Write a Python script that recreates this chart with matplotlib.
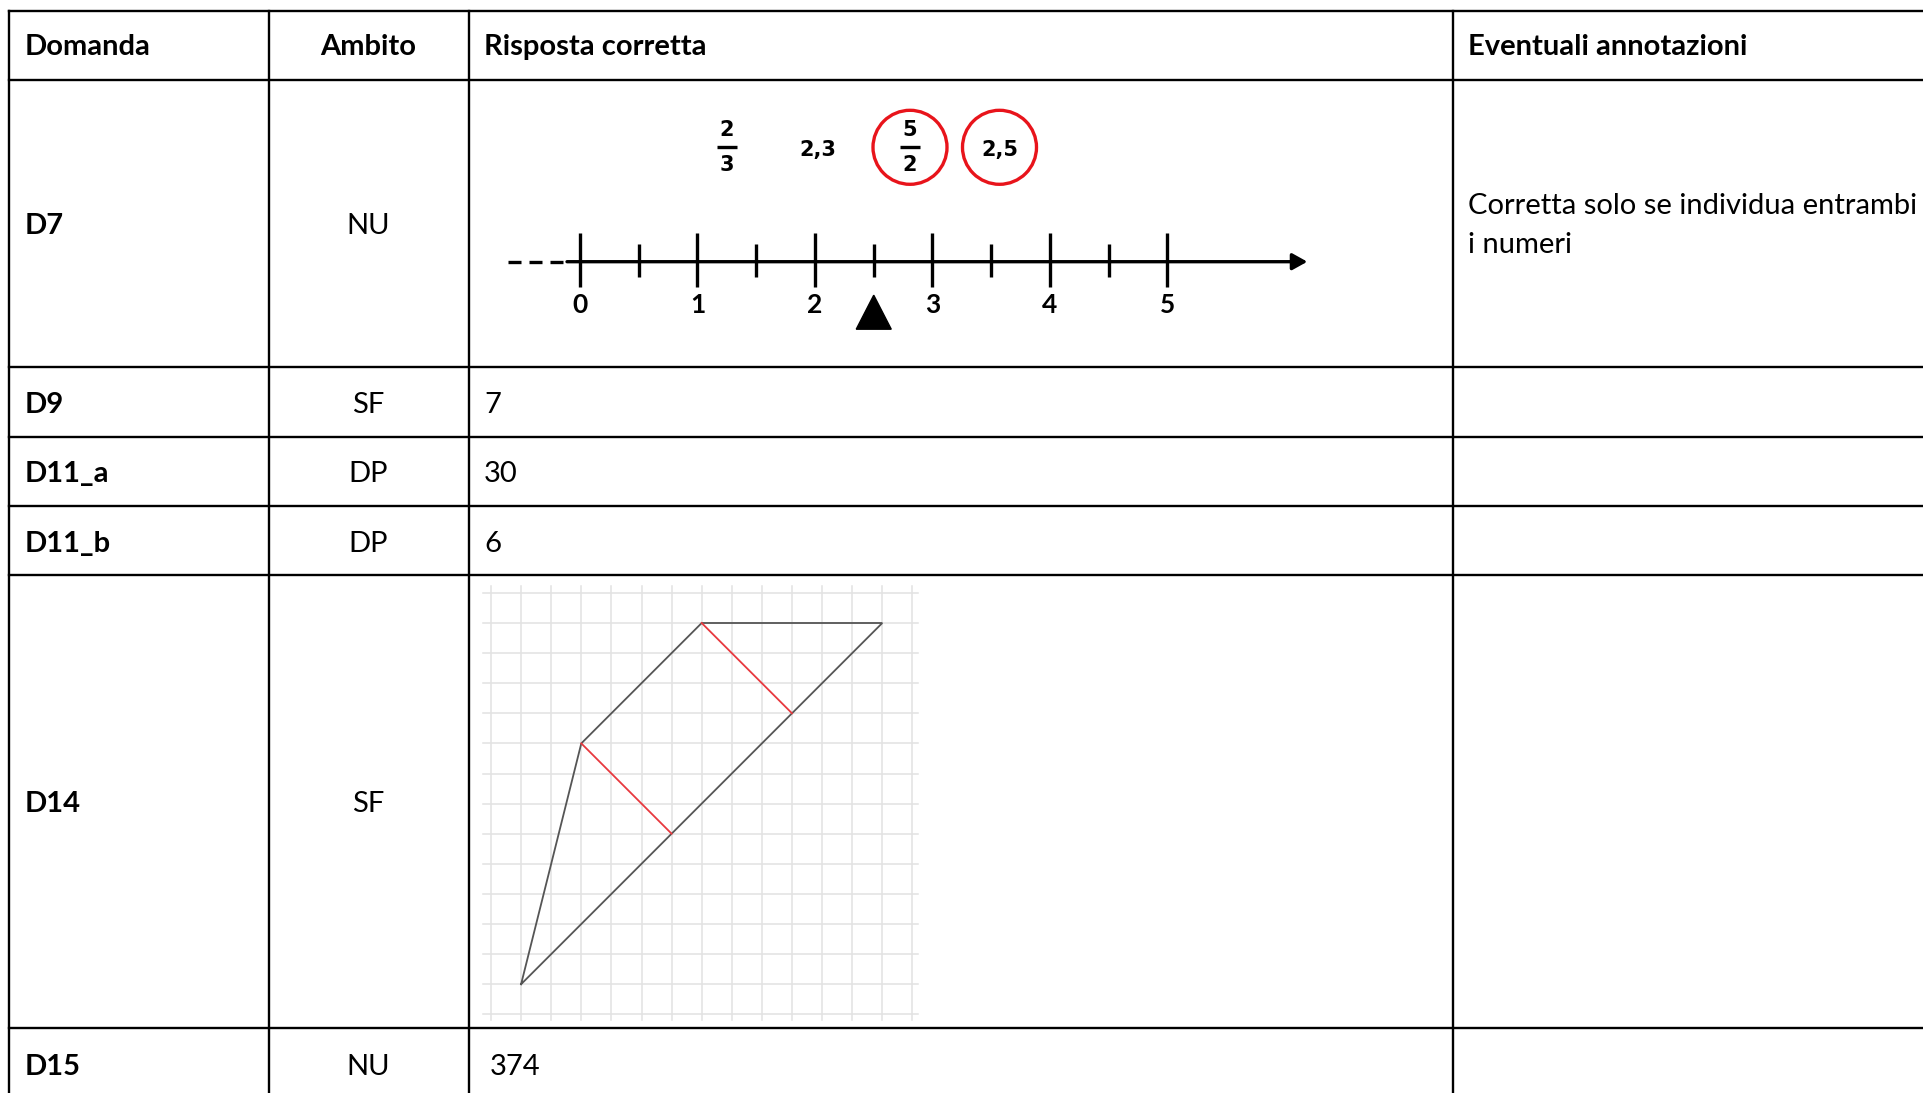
import matplotlib
matplotlib.use("Agg")
import matplotlib.pyplot as plt
from matplotlib.patches import Circle, Polygon

plt.rcParams['font.family'] = ['Lato', 'DejaVu Sans']

# ---------------- data ----------------
headers = ["Domanda", "Ambito", "Risposta corretta", "Eventuali annotazioni"]
questions = ["D7", "D9", "D11_a", "D11_b", "D14", "D15"]
ambiti = ["NU", "SF", "DP", "DP", "SF", "NU"]
risposte = ["", "7", "30", "6", "", "374"]
annotazioni = [["Corretta solo se individua entrambi", "i numeri"], [], [], [], [], []]

# number line (D7)
nl_major = [0, 1, 2, 3, 4, 5]
nl_minor = [0.5, 1.5, 2.5, 3.5, 4.5]
nl_marker = 2.5
cand_labels = [("2", "3"), "2,3", ("5", "2"), "2,5"]
cand_circled = [False, False, True, True]

# D14 grid figure
grid_size = 14
trap_x = [1, 3, 7, 13, 1]
trap_y = [1, 9, 13, 13, 1]
height_x = [[3, 6], [7, 10]]
height_y = [[9, 6], [13, 10]]

# ---------------- layout ----------------
W, H = 1924, 1093
fig = plt.figure(figsize=(W / 100, H / 100), dpi=100)
fig.patch.set_facecolor("white")
ax = fig.add_axes([0, 0, 1, 1])
ax.set_xlim(0, W)
ax.set_ylim(H, 0)
ax.axis("off")

col_x = [9, 269, 469, 1453]
row_y = [11, 80, 367, 437, 506, 575, 1028]
tlw = 1.7
for y in row_y:
    ax.plot([col_x[0], W + 5], [y, y], color="black", lw=tlw, solid_capstyle="projecting")
for x in col_x:
    ax.plot([x, x], [row_y[0], H + 5], color="black", lw=tlw, solid_capstyle="projecting")

fs = 21
text_x = [25, 368, 484, 1468]
ax.text(text_x[0], 55, headers[0], fontsize=fs, fontweight="bold", va="baseline", ha="left")
ax.text(text_x[1], 55, headers[1], fontsize=fs, fontweight="bold", va="baseline", ha="center")
ax.text(text_x[2], 55, headers[2], fontsize=fs, fontweight="bold", va="baseline", ha="left")
ax.text(text_x[3], 55, headers[3], fontsize=fs, fontweight="bold", va="baseline", ha="left")

row_tops = row_y[1:] + [1100]
risp_x = [484, 484, 484, 484, 484, 490]
for i, q in enumerate(questions):
    top, bot = row_tops[i], row_tops[i + 1]
    base = (top + bot) / 2 + 11
    if i == len(questions) - 1:
        base = 1075
    ax.text(text_x[0], base, q, fontsize=fs, fontweight="bold", va="baseline", ha="left")
    ax.text(text_x[1], base, ambiti[i], fontsize=fs, va="baseline", ha="center")
    if risposte[i]:
        ax.text(risp_x[i], base, risposte[i], fontsize=fs, va="baseline", ha="left")
    for k, line in enumerate(annotazioni[i]):
        ax.text(text_x[3], 214 + 39 * k, line, fontsize=fs, va="baseline", ha="left")

# ---------------- number line inset ----------------
s = 117.5          # px per unit
x0_px, yl_px = 580, 261.7
L, R, T, B = 500, 1330, 80, 367
nax = fig.add_axes([L / W, (H - B) / H, (R - L) / W, (B - T) / H])
nax.set_xlim((L - x0_px) / s, (R - x0_px) / s)
nax.set_ylim((yl_px - B) / s, (yl_px - T) / s)
nax.axis("off")

nlw = 2.4
start_solid = nl_major[0] - 13 / s
dash_start = nl_major[0] - 72 / s
tip = nl_major[-1] + 1.19
nax.plot([dash_start, start_solid - 3 / s], [0, 0], color="black", lw=nlw,
         linestyle=(0, (13 / 1.389 / nlw, 8 / 1.389 / nlw)), solid_capstyle="butt", dash_capstyle="butt")
nax.annotate("", xy=(tip, 0), xytext=(start_solid, 0),
             arrowprops=dict(arrowstyle="-|>,head_length=0.9,head_width=0.5", lw=nlw,
                             color="black", shrinkA=0, shrinkB=0, mutation_scale=10))
for v in nl_major:
    nax.plot([v, v], [-25 / s, 28.5 / s], color="black", lw=nlw, solid_capstyle="butt")
    nax.text(v, -43.5 / s, str(v), ha="center", va="center", fontsize=19, fontweight="bold",
             family=["Liberation Sans Narrow", "Lato", "DejaVu Sans"])
for v in nl_minor:
    nax.plot([v, v], [-15.6 / s, 17.6 / s], color="black", lw=nlw, solid_capstyle="butt")
tri = Polygon([[nl_marker, -33.5 / s], [nl_marker - 17.5 / s, -67.5 / s], [nl_marker + 17.5 / s, -67.5 / s]],
              closed=True, facecolor="black", edgecolor="black")
nax.add_patch(tri)

cand_x = [(726.7 - x0_px) / s, (818.3 - x0_px) / s, (910 - x0_px) / s, (999.5 - x0_px) / s]
cy = (yl_px - 147.3) / s
cfam = ["DejaVu Sans"]
cfs = 15
for lab, cx, circ in zip(cand_labels, cand_x, cand_circled):
    if isinstance(lab, tuple):
        nax.text(cx, cy + 17 / s, lab[0], ha="center", va="center", fontsize=cfs, fontweight="bold", family=cfam)
        nax.text(cx, cy - 18 / s, lab[1], ha="center", va="center", fontsize=cfs, fontweight="bold", family=cfam)
        nax.plot([cx - 10 / s, cx + 10 / s], [cy + 0.5 / s, cy + 0.5 / s], color="black", lw=2.4, solid_capstyle="butt")
    else:
        nax.text(cx, cy - 3 / s, lab, ha="center", va="center", fontsize=cfs, fontweight="bold", family=cfam)
    if circ:
        nax.add_patch(Circle((cx, cy), 37 / s, fill=False, edgecolor="#e8141b", lw=2.4))

# ---------------- grid figure inset ----------------
g = 30.1
gx0, gy0 = 491, 1014.3
GL, GR, GT, GB = 470, 935, 577, 1027
gax = fig.add_axes([GL / W, (H - GB) / H, (GR - GL) / W, (GB - GT) / H])
gax.set_xlim((GL - gx0) / g, (GR - gx0) / g)
gax.set_ylim((gy0 - GB) / g, (gy0 - GT) / g)
gax.axis("off")
for i in range(grid_size + 1):
    gax.plot([i, i], [-0.2, grid_size + 0.23], color="#e2e2e2", lw=1.1, zorder=1)
    gax.plot([-0.27, grid_size + 0.18], [i, i], color="#e2e2e2", lw=1.1, zorder=1)
gax.plot(trap_x, trap_y, color="#555555", lw=1.3, zorder=3, solid_joinstyle="miter")
for hx, hy in zip(height_x, height_y):
    gax.plot(hx, hy, color="#e8393f", lw=1.3, zorder=4)

fig.savefig("out.png", dpi=100, facecolor="white")
